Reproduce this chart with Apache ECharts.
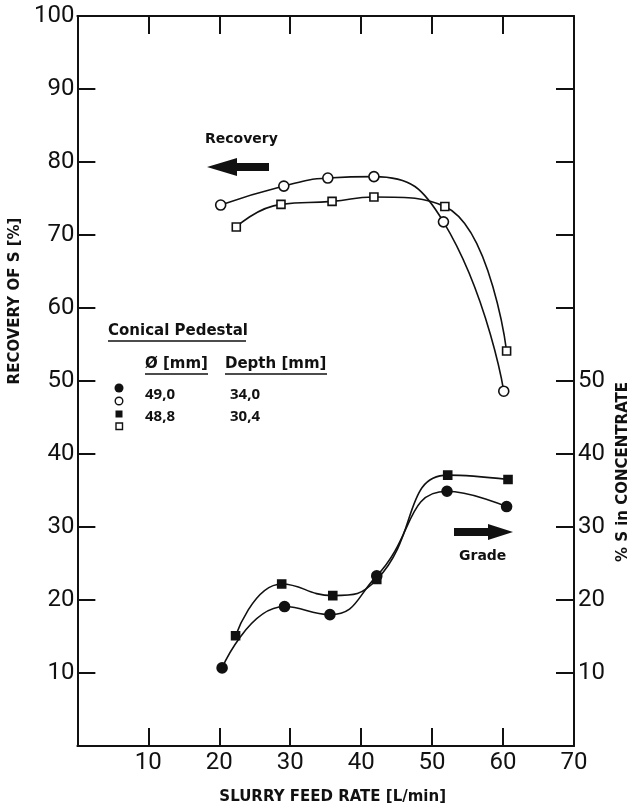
<!DOCTYPE html>
<html>
<head>
<meta charset="utf-8">
<script src="https://cdn.jsdelivr.net/npm/echarts/dist/echarts.min.js"></script>
<style>
  html, body { margin: 0; padding: 0; background: #ffffff; }
  #chart { width: 640px; height: 810px; }
</style>
</head>
<body>
<div id="chart"></div>
<script>
// Slurry feed rate [L/min] and measured values for the two conical pedestals
const recoveryCircleX = [20.2, 29.1, 35.3, 41.8, 51.6, 60.1];
const recoveryCircleY = [74.1, 76.7, 77.8, 78.0, 71.8, 48.6];
const recoverySquareX = [22.4, 28.7, 35.9, 41.8, 51.8, 60.5];
const recoverySquareY = [71.1, 74.2, 74.6, 75.2, 73.9, 54.1];
const gradeCircleX = [20.4, 29.2, 35.6, 42.2, 52.1, 60.5];
const gradeCircleY = [10.7, 19.1, 18.0, 23.3, 34.9, 32.8];
const gradeSquareX = [22.3, 28.8, 36.0, 42.2, 52.2, 60.7];
const gradeSquareY = [15.1, 22.2, 20.6, 22.8, 37.1, 36.5];

// Pedestal table: diameter and depth in mm
const pedestalDiameter = ['49,0', '48,8'];
const pedestalDepth = ['34,0', '30,4'];

// Axis ranges and tick labels
const xTicks = [10, 20, 30, 40, 50, 60, 70];
const leftTicks = [10, 20, 30, 40, 50, 60, 70, 80, 90, 100];
const rightTicks = [10, 20, 30, 40, 50];

const pairs = (xs, ys) => xs.map((x, i) => [x, ys[i]]);

const INK = '#111111';
const tickFont = { fontFamily: 'Roboto', fontWeight: 'normal', fontSize: 24, color: INK };
const boldFont = 'DejaVu Sans';

const chart = echarts.init(document.getElementById('chart'), null, { renderer: 'canvas' });

const lineStyle = { color: INK, width: 1.6 };

function series(name, data, symbol, filled, size, yAxisIndex) {
  return {
    name: name,
    type: 'line',
    data: data,
    xAxisIndex: 0,
    yAxisIndex: yAxisIndex,
    smooth: 0.5,
    symbol: symbol,
    symbolSize: size,
    showSymbol: true,
    lineStyle: lineStyle,
    itemStyle: { color: filled ? INK : '#ffffff', borderColor: INK, borderWidth: 1.6 },
    emphasis: { disabled: true },
    z: 3
  };
}

const axisLine = { show: true, onZero: false, lineStyle: { color: INK, width: 2 } };
const axisTick = { show: true, inside: true, length: 18, lineStyle: { color: INK, width: 2 } };

const option = {
  animation: false,
  backgroundColor: '#ffffff',
  grid: { left: 65, right: 66, top: 16, bottom: 62 },
  xAxis: [
    {
      type: 'value', position: 'bottom', min: 0, max: 70, interval: 10,
      axisLine: axisLine, axisTick: axisTick, splitLine: { show: false },
      axisLabel: Object.assign({ margin: 5, formatter: v => (xTicks.indexOf(v) >= 0 ? String(v) : '') }, tickFont),
      name: 'SLURRY FEED RATE [L/min]',
      nameLocation: 'middle', nameGap: 44,
      nameTextStyle: { fontFamily: boldFont, fontWeight: 'bold', fontSize: 15, color: INK, padding: [0, 0, 0, 14] }
    },
    {
      type: 'value', position: 'top', min: 0, max: 70, interval: 10,
      axisLine: axisLine, axisTick: axisTick, splitLine: { show: false },
      axisLabel: { show: false }
    }
  ],
  yAxis: [
    {
      type: 'value', position: 'left', min: 0, max: 100, interval: 10,
      axisLine: axisLine, axisTick: axisTick, splitLine: { show: false },
      axisLabel: Object.assign({ margin: 3, formatter: v => (leftTicks.indexOf(v) >= 0 ? String(v) : '') }, tickFont),
      name: 'RECOVERY OF S [%]',
      nameLocation: 'middle', nameRotate: 90, nameGap: 36,
      nameTextStyle: { fontFamily: boldFont, fontWeight: 'bold', fontSize: 15, color: INK, padding: [0, 0, 0, 160] }
    },
    {
      type: 'value', position: 'right', min: 0, max: 100, interval: 10,
      axisLine: axisLine, axisTick: axisTick, splitLine: { show: false },
      axisLabel: Object.assign({ margin: 4, formatter: v => (rightTicks.indexOf(v) >= 0 ? String(v) : '') }, tickFont),
      name: '% S in CONCENTRATE',
      nameLocation: 'middle', nameRotate: 90, nameGap: 41,
      nameTextStyle: { fontFamily: boldFont, fontWeight: 'bold', fontSize: 15, color: INK, padding: [0, 182, 0, 0] }
    }
  ],
  series: [
    series('Recovery 49,0 / 34,0', pairs(recoveryCircleX, recoveryCircleY), 'circle', false, 10, 0),
    series('Recovery 48,8 / 30,4', pairs(recoverySquareX, recoverySquareY), 'rect', false, 8, 0),
    series('Grade 49,0 / 34,0', pairs(gradeCircleX, gradeCircleY), 'circle', true, 10, 1),
    series('Grade 48,8 / 30,4', pairs(gradeSquareX, gradeSquareY), 'rect', true, 8, 1)
  ],
  graphic: [
    // "Recovery" label with arrow pointing to the left-hand axis
    { type: 'text', left: 205, top: 132, style: { text: 'Recovery', font: 'bold 14px "DejaVu Sans"', fill: INK } },
    { type: 'polygon', shape: { points: [[207, 167], [237, 158], [237, 163], [269, 163], [269, 171], [237, 171], [237, 176]] }, style: { fill: INK } },
    // "Grade" label with arrow pointing to the right-hand axis
    { type: 'text', left: 459, top: 549, style: { text: 'Grade', font: 'bold 14px "DejaVu Sans"', fill: INK } },
    { type: 'polygon', shape: { points: [[513, 532], [488, 524], [488, 528], [454, 528], [454, 536], [488, 536], [488, 540]] }, style: { fill: INK } },
    // Pedestal key
    { type: 'text', left: 108, top: 324, style: { text: 'Conical Pedestal', font: 'bold 15px "DejaVu Sans"', fill: INK } },
    { type: 'line', shape: { x1: 108, y1: 341, x2: 246, y2: 341 }, style: { stroke: INK, lineWidth: 1.5 } },
    { type: 'text', left: 145, top: 357, style: { text: 'Ø [mm]', font: 'bold 15px "DejaVu Sans"', fill: INK } },
    { type: 'line', shape: { x1: 145, y1: 374, x2: 208, y2: 374 }, style: { stroke: INK, lineWidth: 1.5 } },
    { type: 'text', left: 225, top: 357, style: { text: 'Depth [mm]', font: 'bold 15px "DejaVu Sans"', fill: INK } },
    { type: 'line', shape: { x1: 225, y1: 374, x2: 327, y2: 374 }, style: { stroke: INK, lineWidth: 1.5 } },
    { type: 'text', left: 145, top: 387, style: { text: pedestalDiameter[0], font: 'bold 15px "Open Sans"', fill: INK } },
    { type: 'text', left: 230, top: 387, style: { text: pedestalDepth[0], font: 'bold 15px "Open Sans"', fill: INK } },
    { type: 'text', left: 145, top: 409, style: { text: pedestalDiameter[1], font: 'bold 15px "Open Sans"', fill: INK } },
    { type: 'text', left: 230, top: 409, style: { text: pedestalDepth[1], font: 'bold 15px "Open Sans"', fill: INK } },
    { type: 'circle', shape: { cx: 119, cy: 388, r: 4.5 }, style: { fill: INK } },
    { type: 'circle', shape: { cx: 119, cy: 401, r: 3.8 }, style: { fill: '#ffffff', stroke: INK, lineWidth: 1.4 } },
    { type: 'rect', shape: { x: 115.5, y: 410.5, width: 7, height: 7 }, style: { fill: INK } },
    { type: 'rect', shape: { x: 116, y: 423, width: 6.5, height: 6.5 }, style: { fill: '#ffffff', stroke: INK, lineWidth: 1.4 } }
  ]
};

chart.setOption(option);
</script>
</body>
</html>
